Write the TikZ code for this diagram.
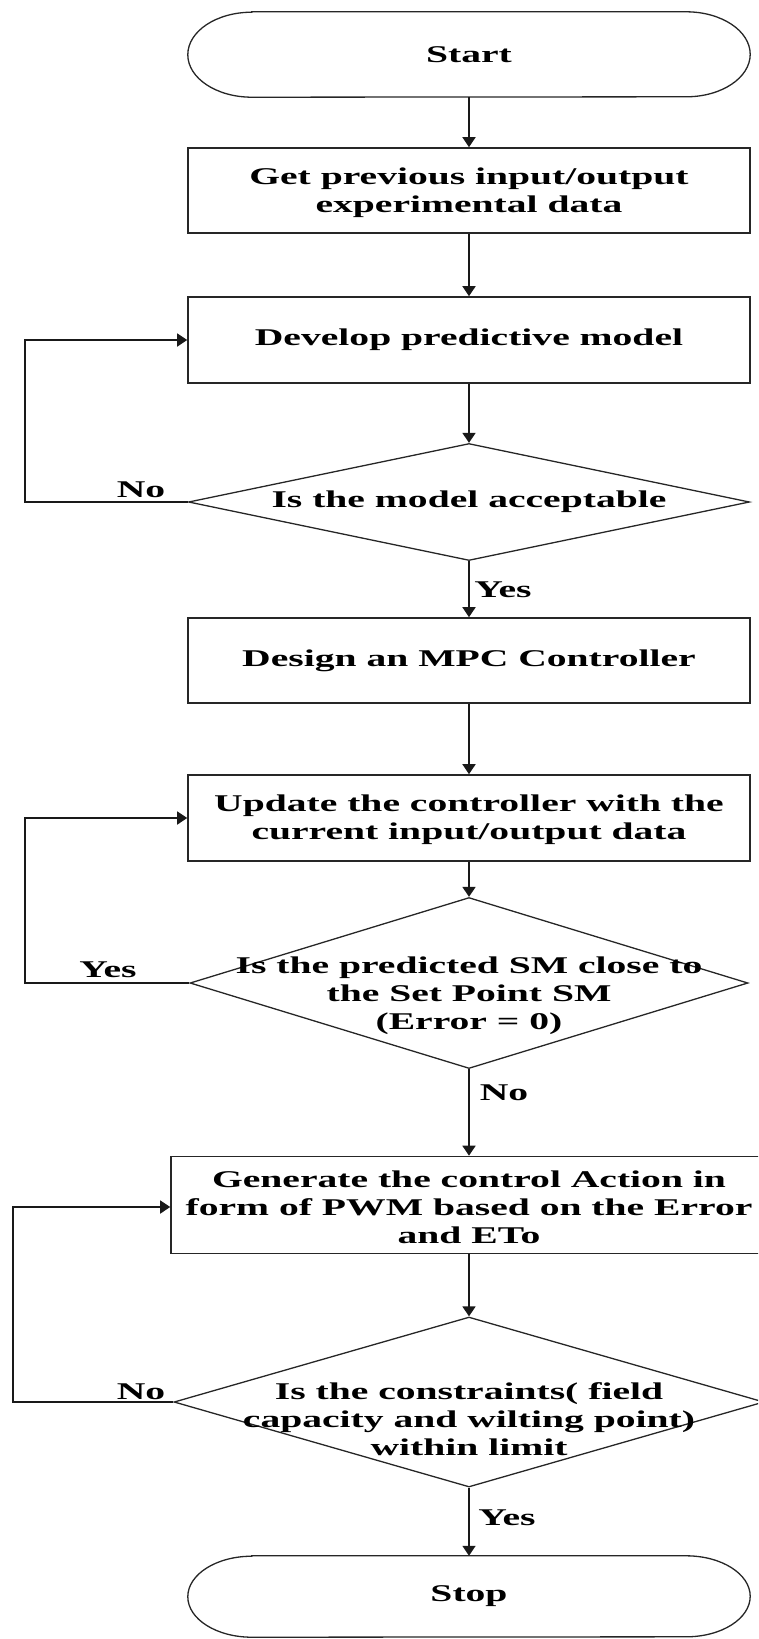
\documentclass[tikz,border=0pt]{standalone}
\usepackage{fontspec}
\setmainfont{Liberation Serif}[FakeStretch=1.65]
\usetikzlibrary{shapes.geometric,arrows.meta}
\begin{document}
\begin{tikzpicture}[x=1pt,y=-1pt,
  txt/.style={font=\bfseries\fontsize{24}{28}\selectfont, align=center, inner sep=0pt},
  procbox/.style={draw=black!85, line width=1.6pt, minimum width=562pt, inner sep=0pt},
  term/.style={minimum width=562pt, inner sep=0pt},
  termline/.style={draw=black!85, line width=1.3pt},
  decision/.style={draw=black!85, line width=1.3pt, diamond, inner sep=0pt},
  arr/.style={draw=black!90, line width=1.6pt, -{Triangle[length=10pt,width=13pt]}},
  lbl/.style={font=\bfseries\fontsize{24}{28}\selectfont, inner sep=0pt}
]
\useasboundingbox (0,0) rectangle (758,1639);
\clip (0,0) rectangle (758,1639);

\node[term, minimum height=85pt] (start) at (469,54.5) {};
\draw[termline] ([xshift=64pt]start.north west) -- ([xshift=-64pt]start.north east)
  arc[start angle=90, end angle=-90, x radius=64pt, y radius=42.5pt]
  -- ([xshift=64pt]start.south west)
  arc[start angle=270, end angle=90, x radius=64pt, y radius=42.5pt] -- cycle;
\node[txt] at (start.center) {Start};

\node[procbox, minimum height=85pt] (b1) at (469,190.5) {};
\node[txt] at (469,193) {Get previous input/output\\experimental data};

\node[procbox, minimum height=86pt] (b2) at (469,340) {};
\node[txt] at (b2.center) {Develop predictive model};

\node[decision, minimum width=561pt, minimum height=117pt] (d1) at (469,502) {};
\node[txt] at (d1.center) {Is the model acceptable};

\node[procbox, minimum height=85pt] (design) at (469,660.5) {};
\node[txt] at (design.center) {Design an MPC Controller};

\node[procbox, minimum height=86pt] (upd) at (469,818) {};
\node[txt] at (469,820) {Update the controller with the\\current input/output data};

\node[decision, minimum width=558pt, minimum height=171pt] (d2) at (469,983) {};
\node[txt] at (469,996) {Is the predicted SM close to\\the Set Point SM\\(Error = 0)};

\node[procbox, minimum width=596pt, minimum height=97pt] (gen) at (469,1205) {};
\node[txt] at (469,1207) {Generate the control Action in\\form of PWM based on the Error\\and ETo};

\node[decision, minimum width=590pt, minimum height=170pt] (d3) at (469,1402) {};
\node[txt] at (469,1419) {Is the constraints( field\\capacity and wilting point)\\within limit};

\node[term, minimum height=81pt] (stop) at (469,1596.5) {};
\draw[termline] ([xshift=64pt]stop.north west) -- ([xshift=-64pt]stop.north east)
  arc[start angle=90, end angle=-90, x radius=64pt, y radius=40.5pt]
  -- ([xshift=64pt]stop.south west)
  arc[start angle=270, end angle=90, x radius=64pt, y radius=40.5pt] -- cycle;
\node[txt] at (stop.center) {Stop};

% connectors
\draw[arr] (start.south) -- (b1.north);
\draw[arr] (b1.south) -- (b2.north);
\draw[arr] (b2.south) -- (d1.north);
\draw[arr] (d1.south) -- (design.north);
\draw[arr] (design.south) -- (upd.north);
\draw[arr] (upd.south) -- (d2.north);
\draw[arr] (d2.south) -- (gen.north);
\draw[arr] (gen.south) -- (d3.north);
\draw[arr] (d3.south) -- (stop.north);

\coordinate (l1) at (25,502);
\coordinate (l2) at (25,983);
\coordinate (l3) at (13,1402);
\draw[arr] (d1.west) -- (l1) |- (b2.west);
\draw[arr] (d2.west) -- (l2) |- (upd.west);
\draw[arr] (d3.west) -- (l3) |- ([yshift=-2pt]gen.west);

% labels
\node[lbl] (n1) at (141,490) {No};
\node[lbl] (y1) at (503,590) {Yes};
\node[lbl] (y2) at (108,970) {Yes};
\node[lbl] (n2) at (504,1093) {No};
\node[lbl] (n3) at (141,1392) {No};
\node[lbl] (y3) at (507,1518) {Yes};
\end{tikzpicture}
\end{document}
